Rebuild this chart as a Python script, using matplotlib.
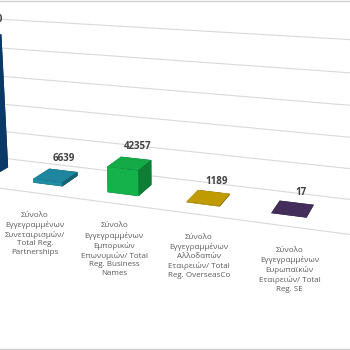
#!/usr/bin/env python3
# -*- coding: utf-8 -*-

import matplotlib
matplotlib.use("Agg")
import matplotlib.pyplot as plt
from matplotlib.colors import LightSource
from matplotlib.transforms import offset_copy
from matplotlib.patches import Rectangle
import numpy as np

# ---------------- dados ----------------

categories = [
    "Σύνολο\nΕγγεγραμμένων\nΕταιρειών/ Total\nReg. Companies",
    "Σύνολο\nΕγγεγραμμένων\nΣυνεταιρισμών/\nTotal Reg.\nPartnerships",
    "Σύνολο\nΕγγεγραμμένων\nΕμπορικών\nΕπωνυμιών/ Total\nReg. Business\nNames",
    "Σύνολο\nΕγγεγραμμένων\nΑλλοδαπών\nΕταιρειών/ Total\nReg. OverseasCo",
    "Σύνολο\nΕγγεγραμμένων\nΕυρωπαϊκών\nΕταιρειών/ Total\nReg. SE",
]
values = [232000, 6639, 42357, 1189, 17]
bar_colors = ["#1058a0", "#2299b5", "#17c252", "#dcb100", "#4d3568"]

z_step = 50000
z_max = 250000

plt.rcParams['font.family'] = ['Open Sans', 'DejaVu Sans']

# ---------------- figura ----------------

fig = plt.figure(figsize=(3.5, 3.5), dpi=100)
ax = fig.add_axes([-0.399, -0.115, 1.72, 1.52], projection="3d", computed_zorder=False)
ax.set_proj_type("persp", focal_length=0.3)
ax.view_init(elev=15, azim=-70)
ax.set_box_aspect((510, 90, 160))

xs = np.arange(len(values))
x_lo, x_hi = -0.5, len(values) + 0.5
ax.set_xlim(x_lo, x_hi)
ax.set_ylim(0, 1)
ax.set_zlim(0, z_max)
ax.set_axis_off()

# parede do fundo e chão
for z in range(0, z_max + 1, z_step):
    ax.plot([x_lo, x_hi], [1, 1], [z, z], color="#d9d9d9", lw=0.8, zorder=1)
ax.plot([x_lo, x_hi], [0, 0], [0, 0], color="#d9d9d9", lw=0.8, zorder=1)
ax.plot([x_hi, x_hi], [0, 1], [0, 0], color="#d9d9d9", lw=0.8, zorder=1)

bw, bd = 0.4, 0.4
ax.bar3d(xs - bw / 2, 0.5 - bd / 2, 0, bw, bd, values,
         color=bar_colors, shade=True, lightsource=LightSource(azdeg=180, altdeg=40),
         zorder=2)

# rótulos de valor
up = offset_copy(ax.transData, fig=fig, x=6, y=8, units="points")
for x, v in zip(xs, values):
    ax.text(x, 0.5, v, f"{v}", ha="center", va="bottom", fontsize=7,
            fontweight="bold", color="#404040", transform=up, zorder=5)

# rótulos de categoria
down = offset_copy(ax.transData, fig=fig, x=11, y=-6, units="points")
for x, lab in zip(xs, categories):
    ax.text(x, -0.35, 0, lab, ha="center", va="top", fontsize=5.8,
            color="#595959", linespacing=1.32, transform=down, zorder=5)

# borda da área do gráfico
fig.patches.append(Rectangle((-0.01, 0.004), 1.02, 0.992, transform=fig.transFigure,
                             fill=False, ec="#d0d0d0", lw=1))

fig.savefig("out.png", dpi=100)
